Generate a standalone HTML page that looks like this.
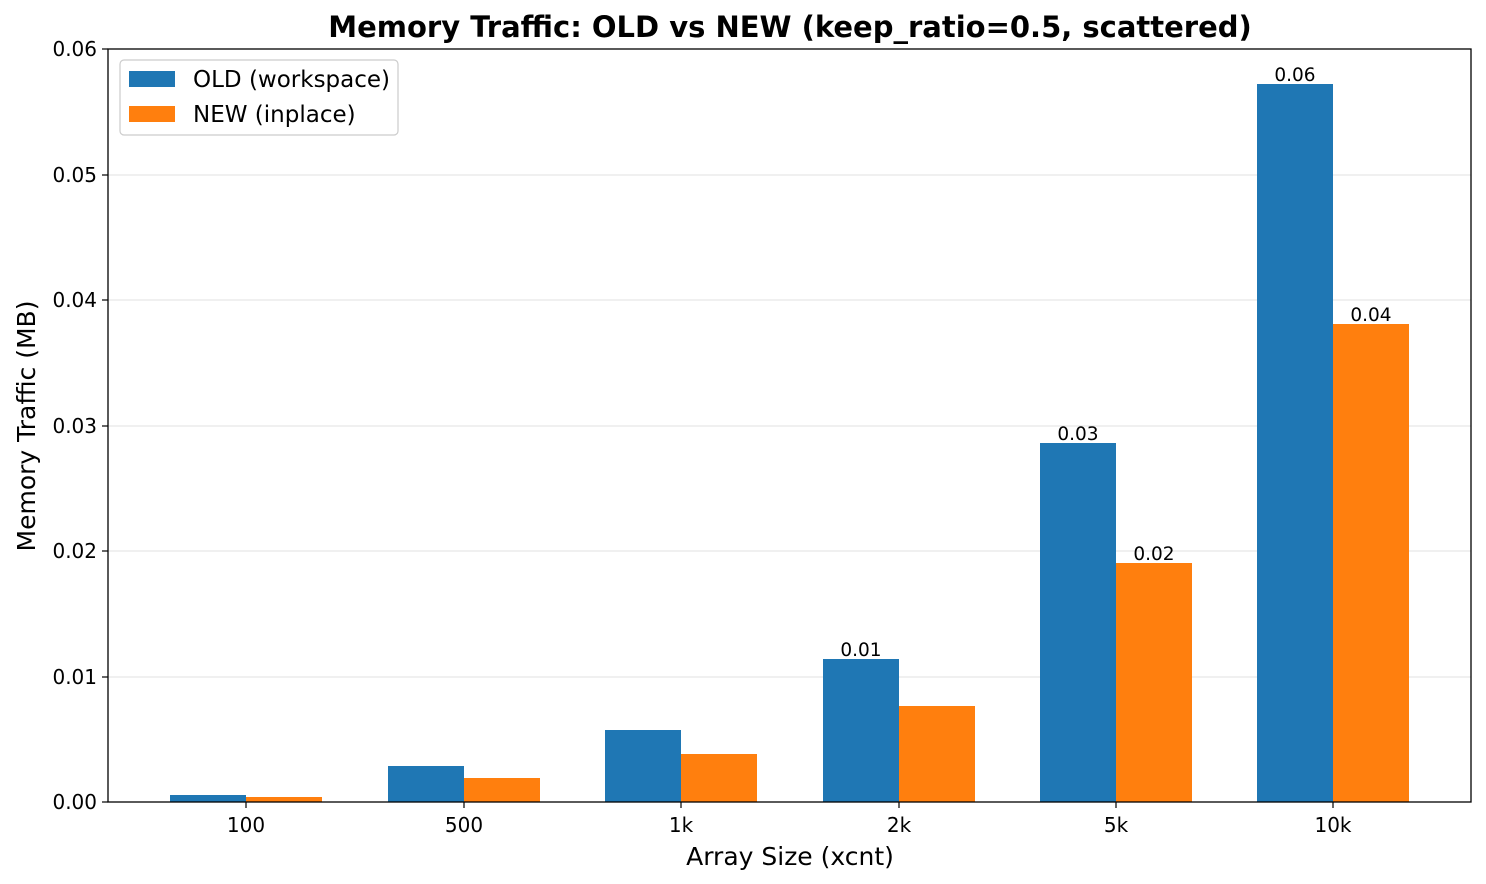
<!DOCTYPE html>
<html><head><meta charset="utf-8"><style>
html,body{margin:0;padding:0;background:#fff;}
svg{display:block;font-family:"DejaVu Sans","Liberation Sans",sans-serif;}
</style></head><body>
<svg width="1486" height="884" viewBox="0 0 1486 884" xmlns="http://www.w3.org/2000/svg">
<rect width="1486" height="884" fill="#fff"/>
<g stroke="#e6e6e6" stroke-width="1.2">
<line x1="108" x2="1471" y1="677" y2="677"/>
<line x1="108" x2="1471" y1="551" y2="551"/>
<line x1="108" x2="1471" y1="426" y2="426"/>
<line x1="108" x2="1471" y1="300" y2="300"/>
<line x1="108" x2="1471" y1="175" y2="175"/>
</g>
<g fill="#1f77b4">
<rect x="170" y="795" width="76" height="7"/>
<rect x="388" y="766" width="76" height="36"/>
<rect x="605" y="730" width="76" height="72"/>
<rect x="823" y="659" width="76" height="143"/>
<rect x="1040" y="443" width="76" height="359"/>
<rect x="1257" y="84" width="76" height="718"/>
</g>
<g fill="#ff7f0e">
<rect x="246" y="797" width="76" height="5"/>
<rect x="464" y="778" width="76" height="24"/>
<rect x="681" y="754" width="76" height="48"/>
<rect x="899" y="706" width="76" height="96"/>
<rect x="1116" y="563" width="76" height="239"/>
<rect x="1333" y="324" width="76" height="478"/>
</g>
<g font-size="18.5" text-anchor="middle" fill="#000">
<text x="861" y="656">0.01</text>
<text x="1078" y="440">0.03</text>
<text x="1154" y="560">0.02</text>
<text x="1295" y="81">0.06</text>
<text x="1371" y="321">0.04</text>
</g>
<rect x="108" y="49" width="1363" height="753" fill="none" stroke="#000" stroke-width="1.3"/>
<g stroke="#000" stroke-width="1.2">
<line x1="102" x2="108" y1="802" y2="802"/><line x1="102" x2="108" y1="677" y2="677"/>
<line x1="102" x2="108" y1="551" y2="551"/><line x1="102" x2="108" y1="426" y2="426"/>
<line x1="102" x2="108" y1="300" y2="300"/><line x1="102" x2="108" y1="175" y2="175"/>
<line x1="102" x2="108" y1="49" y2="49"/>
<line x1="246" x2="246" y1="802" y2="808"/><line x1="464" x2="464" y1="802" y2="808"/>
<line x1="681" x2="681" y1="802" y2="808"/><line x1="899" x2="899" y1="802" y2="808"/>
<line x1="1116" x2="1116" y1="802" y2="808"/><line x1="1333" x2="1333" y1="802" y2="808"/>
</g>
<g font-size="20" text-anchor="end" fill="#000">
<text x="97" y="809">0.00</text><text x="97" y="684">0.01</text>
<text x="97" y="558">0.02</text><text x="97" y="433">0.03</text>
<text x="97" y="307">0.04</text><text x="97" y="182">0.05</text>
<text x="97" y="56">0.06</text>
</g>
<g font-size="20" text-anchor="middle" fill="#000">
<text x="246" y="832">100</text><text x="464" y="832">500</text>
<text x="681" y="832">1k</text><text x="899" y="832">2k</text>
<text x="1116" y="832">5k</text><text x="1333" y="832">10k</text>
</g>
<text x="790" y="865" font-size="25" text-anchor="middle">Array Size (xcnt)</text>
<text transform="translate(35,426) rotate(-90)" font-size="25" text-anchor="middle">Memory Traffic (MB)</text>
<text x="790" y="37" font-size="29" font-weight="bold" text-anchor="middle">Memory Traffic: OLD vs NEW (keep_ratio=0.5, scattered)</text>
<rect x="120" y="60" width="278" height="75" rx="4" fill="#fff" stroke="#ccc" stroke-width="1.2"/>
<rect x="129" y="71" width="46" height="16" fill="#1f77b4"/>
<rect x="129" y="106" width="46" height="16" fill="#ff7f0e"/>
<text x="193" y="87" font-size="23">OLD (workspace)</text>
<text x="193" y="122" font-size="23">NEW (inplace)</text>
</svg>
</body></html>
